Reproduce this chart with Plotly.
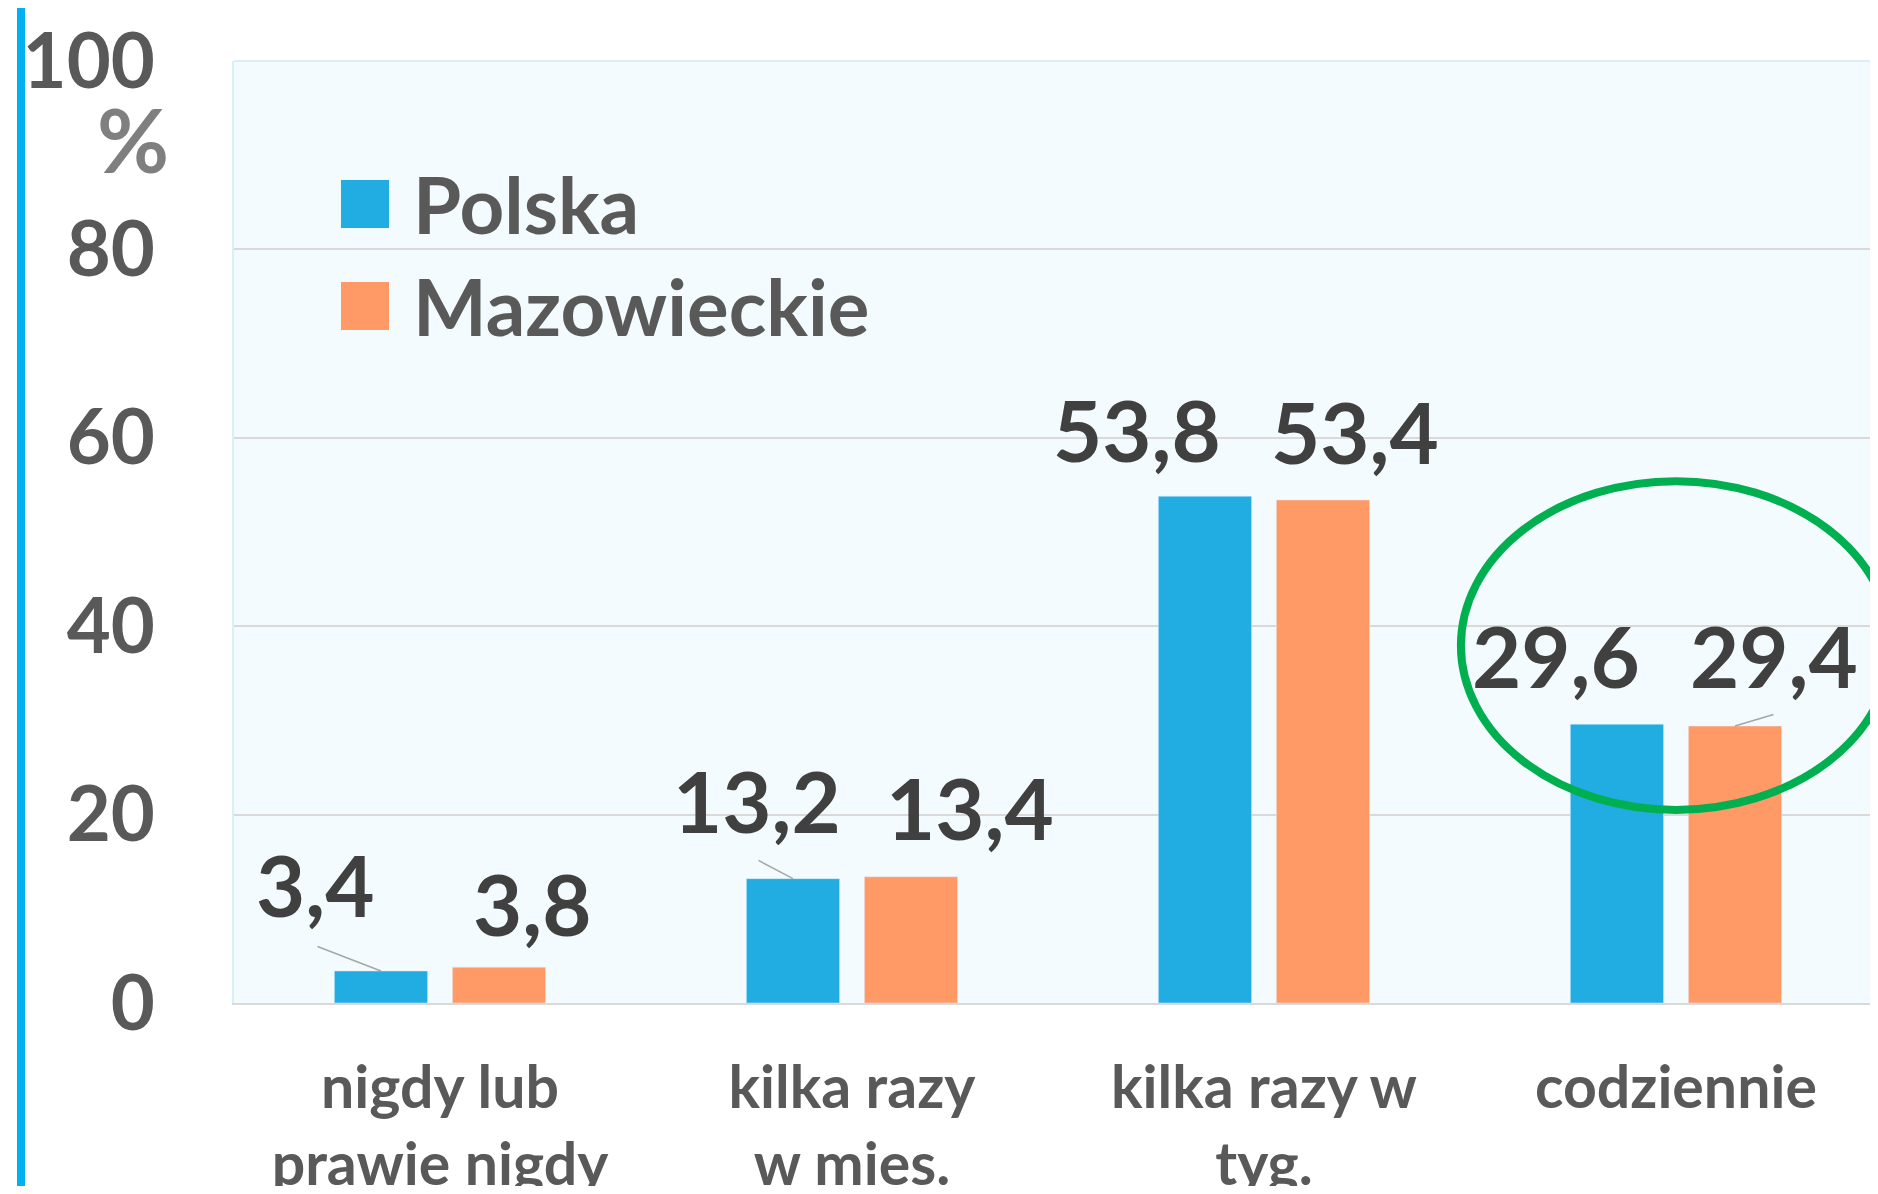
import plotly.graph_objects as go

categories = ["nigdy lub<br>prawie nigdy", "kilka razy<br>w mies.", "kilka razy w<br>tyg.", "codziennie"]
polska = [3.4, 13.2, 53.8, 29.6]
mazowieckie = [3.8, 13.4, 53.4, 29.4]
y_ticks = [0, 20, 40, 60, 80, 100]

# label placement (pixel offsets from category centre / bar top)
pol_dx = [-124, -95, -127, -120]
pol_dy = [87, 79, 67, 69]
maz_dx = [93, 118, 91, 98]
maz_dy = [64, 70, 69, 71]

BLUE = "#21ACE2"
ORANGE = "#FF9966"
FONT = "Lato"

W, H = 1862, 1178
ML, MR, MT, MB = 226, 0, 53, 183
PW = W - ML - MR
PH = H - MT - MB


def px(x):
    return (x - ML) / PW


def py(y):
    return (H - MB - y) / PH


fig = go.Figure()
fig.add_trace(go.Bar(x=categories, y=polska, name="Polska", marker_color=BLUE, showlegend=False))
fig.add_trace(go.Bar(x=categories, y=mazowieckie, name="Mazowieckie", marker_color=ORANGE, showlegend=False))


def fmt(v):
    return f"{v:.1f}".replace(".", ",")


ann = []
for i, c in enumerate(categories):
    ann.append(dict(x=c, y=polska[i], xref="x", yref="y", text=fmt(polska[i]), showarrow=False,
                    xshift=pol_dx[i], yshift=pol_dy[i], yanchor="middle", xanchor="center",
                    font=dict(family=FONT, size=85, color="#404040", weight="bold")))
    ann.append(dict(x=c, y=mazowieckie[i], xref="x", yref="y", text=fmt(mazowieckie[i]), showarrow=False,
                    xshift=maz_dx[i], yshift=maz_dy[i], yanchor="middle", xanchor="center",
                    font=dict(family=FONT, size=85, color="#404040", weight="bold")))

# leader lines (series, category index, tail dx, tail dy)
leaders = [("p", 0, -65, -25), ("p", 1, -36, -19), ("m", 3, 40, -12)]
for s, i, ax, ay in leaders:
    vals = polska if s == "p" else mazowieckie
    ann.append(dict(x=categories[i], y=vals[i], xref="x", yref="y", text="", showarrow=True,
                    arrowhead=0, arrowwidth=1.5, arrowcolor="#A6A6A6", ax=ax, ay=ay, standoff=0,
                    xshift=-59 if s == "p" else 59))

# percent sign
ann.append(dict(x=px(125), y=py(131), xref="paper", yref="paper", text="%", showarrow=False,
                xanchor="center", yanchor="middle",
                font=dict(family=FONT, size=88, color="#7F7F7F", weight="bold")))

# legend (manual)
legend_items = [("Polska", BLUE, 196), ("Mazowieckie", ORANGE, 298)]
shapes = []
for name, col, yc in legend_items:
    shapes.append(dict(type="rect", xref="paper", yref="paper", x0=px(333), x1=px(381),
                       y0=py(yc + 24), y1=py(yc - 24), fillcolor=col, line=dict(width=0)))
    ann.append(dict(x=px(403), y=py(yc), xref="paper", yref="paper", text=name, showarrow=False,
                    xanchor="left", yanchor="middle",
                    font=dict(family=FONT, size=78, color="#595959", weight="bold")))

# green ellipse highlight
shapes.append(dict(type="circle", xref="x", yref="y", x0=2.478, x1=3.522, y0=20.5, y1=55.4,
                   line=dict(color="#00B050", width=8)))
# top border of plot area
shapes.append(dict(type="line", xref="paper", yref="paper", x0=0, x1=1, y0=1, y1=1,
                   line=dict(color="#DCEEF8", width=2)))
# blue vertical line at left
shapes.append(dict(type="line", xref="paper", yref="paper", x0=px(13), x1=px(13), y0=-0.3, y1=1.2,
                   line=dict(color="#00B0F0", width=8)))

fig.update_layout(
    width=W, height=H,
    margin=dict(l=ML, r=MR, t=MT, b=MB, pad=0),
    paper_bgcolor="white",
    plot_bgcolor="#F3FBFE",
    barmode="group",
    bargap=0.427,
    bargroupgap=0.21,
    annotations=ann,
    shapes=shapes,
    xaxis=dict(range=[-0.5, 3.471], showline=True, linecolor="#D9D9D9", linewidth=2,
               ticks="", ticklabelstandoff=32, automargin=False,
               tickfont=dict(family=FONT, size=59, color="#595959", weight="bold")),
    yaxis=dict(range=[0, 100], tickvals=y_ticks, ticktext=[str(t) for t in y_ticks],
               showgrid=True, gridcolor="#D9D9D9", gridwidth=1.5, zeroline=False,
               showline=True, linecolor="#DCEEF8", linewidth=2, ticks="", ticklabelstandoff=62,
               automargin=False,
               tickfont=dict(family=FONT, size=76, color="#595959", weight="bold")),
)

fig.write_html("out.html")
